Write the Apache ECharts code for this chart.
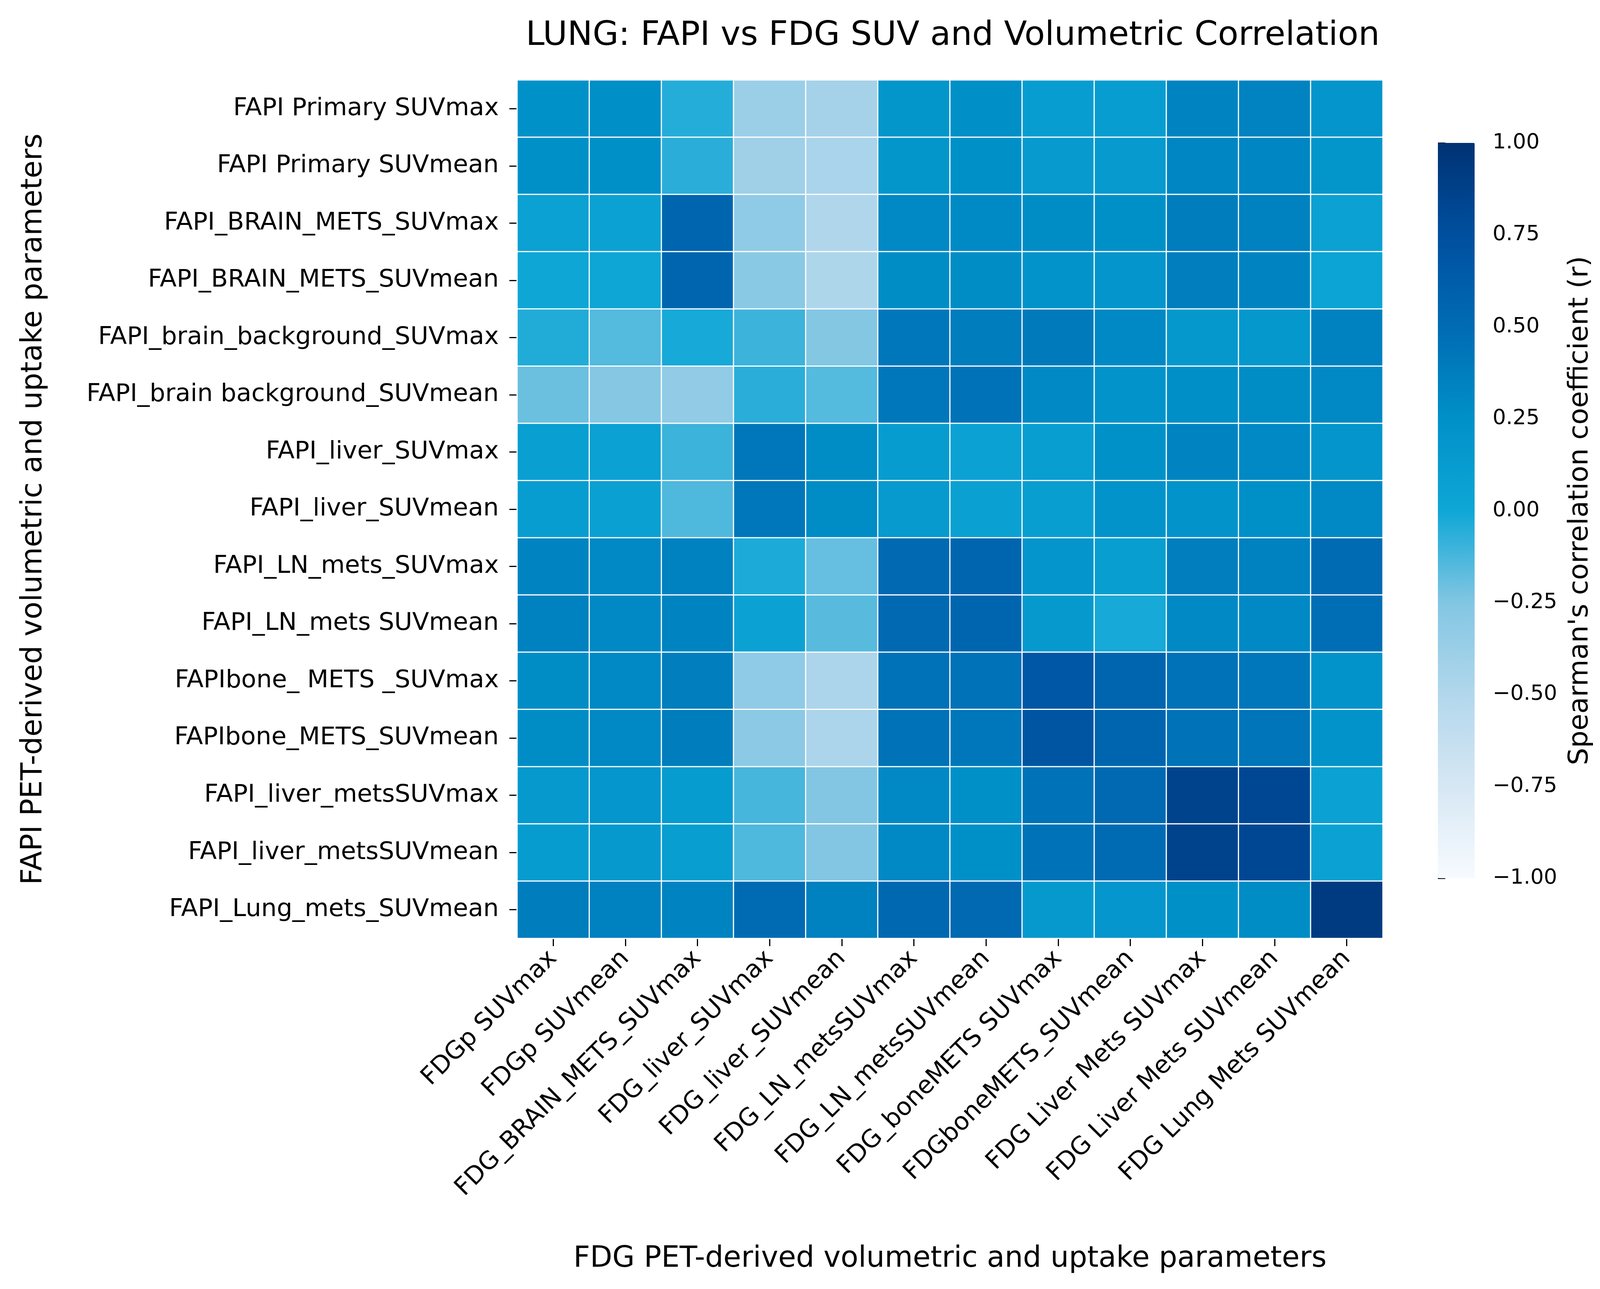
<!DOCTYPE html>
<html>
<head>
<meta charset="utf-8">
<script src="https://cdn.jsdelivr.net/npm/echarts@6/dist/echarts.min.js"></script>
<style>
  html, body { margin: 0; padding: 0; background: #fff; }
  #main { width: 4130px; height: 3301px; }
</style>
</head>
<body>
<div id="main"></div>
<script>
var chartDom = document.getElementById('main');
var myChart = echarts.init(chartDom);
var option;

// FDG parameters (columns)
let fdgParams = [
    'FDGp SUVmax', 'FDGp SUVmean', 'FDG_BRAIN_METS_SUVmax', 'FDG_liver_SUVmax',
    'FDG_liver_SUVmean', 'FDG_LN_metsSUVmax', 'FDG_LN_metsSUVmean', 'FDG_boneMETS SUVmax',
    'FDGboneMETS_SUVmean', 'FDG Liver Mets SUVmax', 'FDG Liver Mets SUVmean', 'FDG Lung Mets SUVmean'
];

// FAPI parameters (rows, top to bottom)
let fapiParams = [
    'FAPI Primary SUVmax', 'FAPI Primary SUVmean', 'FAPI_BRAIN_METS_SUVmax',
    'FAPI_BRAIN_METS_SUVmean', 'FAPI_brain_background_SUVmax', 'FAPI_brain background_SUVmean',
    'FAPI_liver_SUVmax', 'FAPI_liver_SUVmean', 'FAPI_LN_mets_SUVmax', 'FAPI_LN_mets SUVmean',
    'FAPIbone_ METS _SUVmax', 'FAPIbone_METS_SUVmean', 'FAPI_liver_metsSUVmax',
    'FAPI_liver_metsSUVmean', 'FAPI_Lung_mets_SUVmean'
];

// spearman r, one row per FAPI parameter
let rPrimaryMax      = [0.24, 0.26, -0.05, -0.38, -0.43, 0.19, 0.26, 0.11, 0.11, 0.33, 0.34, 0.20];
let rPrimaryMean     = [0.25, 0.25, -0.06, -0.40, -0.46, 0.19, 0.25, 0.14, 0.14, 0.32, 0.32, 0.19];
let rBrainMetsMax    = [0.06, 0.05, 0.55, -0.32, -0.49, 0.30, 0.29, 0.27, 0.25, 0.38, 0.35, 0.06];
let rBrainMetsMean   = [0.01, 0.01, 0.55, -0.29, -0.48, 0.27, 0.27, 0.22, 0.20, 0.37, 0.33, 0.03];
let rBgMax           = [-0.04, -0.15, -0.02, -0.10, -0.26, 0.42, 0.38, 0.40, 0.30, 0.16, 0.16, 0.35];
let rBgMean          = [-0.20, -0.27, -0.33, -0.06, -0.15, 0.42, 0.45, 0.30, 0.22, 0.26, 0.27, 0.30];
let rLiverMax        = [0.09, 0.06, -0.10, 0.42, 0.27, 0.12, 0.06, 0.10, 0.24, 0.33, 0.30, 0.20];
let rLiverMean       = [0.11, 0.08, -0.14, 0.42, 0.28, 0.14, 0.07, 0.10, 0.22, 0.22, 0.25, 0.30];
let rLnMetsMax       = [0.33, 0.30, 0.35, -0.03, -0.19, 0.52, 0.55, 0.20, 0.10, 0.37, 0.35, 0.50];
let rLnMetsMean      = [0.35, 0.30, 0.33, 0.05, -0.16, 0.52, 0.55, 0.15, -0.02, 0.30, 0.30, 0.48];
let rBoneMetsMax     = [0.27, 0.30, 0.37, -0.32, -0.47, 0.45, 0.45, 0.68, 0.55, 0.45, 0.42, 0.22];
let rBoneMetsMean    = [0.27, 0.30, 0.38, -0.30, -0.47, 0.45, 0.42, 0.70, 0.55, 0.45, 0.43, 0.22];
let rLiverMetsMax    = [0.15, 0.18, 0.12, -0.12, -0.25, 0.30, 0.25, 0.45, 0.52, 0.85, 0.82, 0.05];
let rLiverMetsMean   = [0.12, 0.15, 0.10, -0.14, -0.25, 0.30, 0.25, 0.45, 0.50, 0.85, 0.82, 0.05];
let rLungMetsMean    = [0.38, 0.35, 0.33, 0.50, 0.35, 0.53, 0.52, 0.15, 0.18, 0.25, 0.28, 0.92];

let rows = [rPrimaryMax, rPrimaryMean, rBrainMetsMax, rBrainMetsMean, rBgMax, rBgMean,
    rLiverMax, rLiverMean, rLnMetsMax, rLnMetsMean, rBoneMetsMax, rBoneMetsMean,
    rLiverMetsMax, rLiverMetsMean, rLungMetsMean];

let cells = [];
for (let i = 0; i < rows.length; i++) {
    for (let j = 0; j < rows[i].length; j++) {
        cells.push([j, i, rows[i][j]]);
    }
}

const FONT = 'DejaVu Sans';

option = {
    backgroundColor: '#fff',
    animation: false,
    textStyle: { fontFamily: FONT, color: '#000' },
    title: {
        text: 'LUNG: FAPI vs FDG SUV and Volumetric Correlation',
        left: 2434,
        textAlign: 'center',
        top: 45,
        textStyle: { fontFamily: FONT, fontSize: 86, fontWeight: 'normal', color: '#000' }
    },
    grid: [{
        left: 1324, top: 205, width: 2216, height: 2198
    }, {
        left: 3681, top: 366, width: 94, height: 1883
    }],
    xAxis: [{
        type: 'category',
        data: fdgParams,
        gridIndex: 0,
        name: 'FDG PET-derived volumetric and uptake parameters',
        nameLocation: 'middle',
        nameGap: 785,
        nameTextStyle: { fontFamily: FONT, fontSize: 74, color: '#000' },
        axisLine: { show: false },
        axisTick: { show: true, alignWithLabel: true, length: 20, lineStyle: { color: '#000', width: 3 } },
        axisLabel: { rotate: 45, fontSize: 63, margin: 42, color: '#000', fontFamily: FONT, interval: 0 },
        splitLine: { show: false }
    }, {
        type: 'value', gridIndex: 1, show: false, min: 0, max: 1
    }],
    yAxis: [{
        type: 'category',
        data: fapiParams,
        gridIndex: 0,
        inverse: true,
        name: 'FAPI PET-derived volumetric and uptake parameters',
        nameLocation: 'middle',
        nameGap: 1200,
        nameRotate: 90,
        nameTextStyle: { fontFamily: FONT, fontSize: 74, color: '#000' },
        axisLine: { show: false },
        axisTick: { show: true, alignWithLabel: true, length: 20, lineStyle: { color: '#000', width: 3 } },
        axisLabel: { fontSize: 63, margin: 47, color: '#000', fontFamily: FONT, interval: 0 },
        splitLine: { show: false }
    }, {
        type: 'value',
        gridIndex: 1,
        min: -1,
        max: 1,
        interval: 0.25,
        position: 'right',
        name: "Spearman's correlation coefficient (r)",
        nameLocation: 'middle',
        nameRotate: 90,
        nameGap: 236,
        nameTextStyle: { fontFamily: FONT, fontSize: 70, color: '#000' },
        axisLine: { show: false },
        axisTick: { show: true, length: 19, lineStyle: { color: '#000', width: 3 } },
        axisLabel: {
            fontSize: 54, margin: 46, color: '#000', fontFamily: FONT,
            formatter: function (v) { return (v < 0 ? '\u2212' : '') + Math.abs(v).toFixed(2); }
        },
        splitLine: { show: false }
    }],
    visualMap: {
        type: 'continuous',
        min: -1,
        max: 1,
        seriesIndex: 0,
        calculable: false,
        hoverLink: false,
        orient: 'vertical',
        left: 3681,
        top: 366,
        itemWidth: 94,
        itemHeight: 1883,
        padding: 0,
        text: null,
        textStyle: { color: 'rgba(0,0,0,0)', fontSize: 1 },
        handleStyle: { opacity: 0 },
        indicatorStyle: { opacity: 0 },
        indicatorSize: 0,
        inRange: {
            color: ['#f7fbff', '#d6e7f4', '#b2d7ec', '#82c6e3', '#0ea7d6',
                '#0090c8', '#006bb3', '#004f9f', '#003273']
        }
    },
    series: [{
        type: 'heatmap',
        xAxisIndex: 0,
        yAxisIndex: 0,
        data: cells,
        itemStyle: { borderColor: '#fff', borderWidth: 3 },
        emphasis: { disabled: true }
    }]
};

option && myChart.setOption(option);
</script>
</body>
</html>
